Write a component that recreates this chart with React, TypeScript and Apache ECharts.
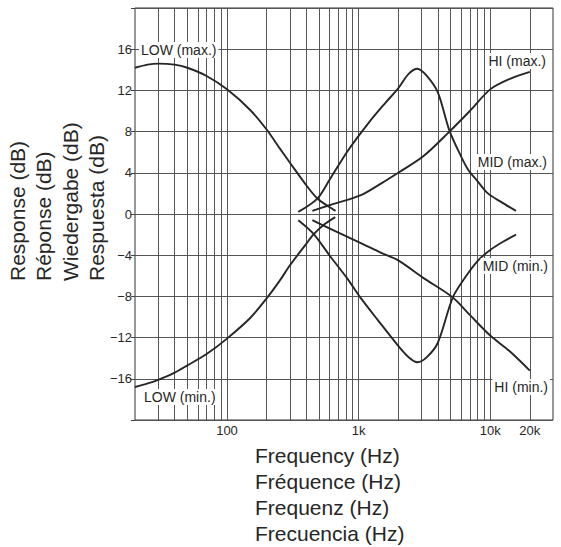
import React, { useEffect, useRef } from "react";
import * as echarts from "echarts";

// Frequency (Hz) / response (dB)
const lowMaxFreq = [20, 25, 30, 40, 50, 70, 100, 150, 200, 254, 300, 400, 486, 580, 668];
const lowMaxDb = [14.2, 14.5, 14.6, 14.5, 14.2, 13.4, 12.1, 10.1, 8.2, 6.3, 5.0, 2.8, 1.5, 0.8, 0.3];

const lowMinFreq = [20, 25, 30, 40, 50, 70, 100, 150, 200, 254, 300, 400, 453, 550, 665];
const lowMinDb = [-16.8, -16.45, -16.1, -15.4, -14.7, -13.6, -12.1, -10.1, -8.2, -6.4, -5.0, -2.9, -2.0, -1.0, -0.3];

const midMaxFreq = [348, 486, 600, 824, 1200, 1600, 2000, 2400, 2800, 3300, 4000, 4900, 6000, 6800, 8000, 9600, 12000, 15700];
const midMaxDb = [0.2, 1.5, 3.3, 6.1, 8.9, 10.8, 12.2, 13.6, 14.1, 13.4, 11.8, 8.1, 5.6, 4.3, 3.2, 2.0, 1.2, 0.3];

const midMinFreq = [348, 453, 600, 824, 1030, 1400, 2000, 2400, 2800, 3300, 4000, 5200, 6500, 8100, 10000, 12500, 15700];
const midMinDb = [-0.6, -1.9, -4.0, -6.3, -8.1, -10.3, -12.8, -13.9, -14.4, -13.9, -12.5, -8.1, -6.1, -4.5, -3.5, -2.7, -2.0];

const hiMaxFreq = [445, 600, 1030, 1500, 2000, 3100, 4900, 7000, 10000, 14000, 20000];
const hiMaxDb = [0.3, 0.85, 1.8, 3.0, 4.0, 5.6, 8.0, 10.0, 12.1, 13.1, 13.8];

const hiMinFreq = [445, 600, 1030, 1500, 2000, 3100, 5200, 7000, 10000, 14000, 20000];
const hiMinDb = [-0.6, -1.4, -2.8, -3.8, -4.5, -6.2, -8.1, -9.8, -11.8, -13.3, -15.2];

// Axis ticks and vertical grid lines
const xTickValues = [100, 1000, 10000, 20000];
const gridFreqs = [
  30, 40, 50, 60, 70, 80, 90, 100,
  200, 300, 400, 500, 600, 700, 800, 900, 1000,
  2000, 3000, 4000, 5000, 6000, 7000, 8000, 9000, 10000,
  20000,
];

const yTitles = ["Response (dB)", "Réponse (dB)", "Wiedergabe (dB)", "Respuesta (dB)"];
const xTitles = ["Frequency (Hz)", "Fréquence (Hz)", "Frequenz (Hz)", "Frecuencia (Hz)"];

const FONT = "'Liberation Sans', Arial, Helvetica, sans-serif";
const INK = "#262626";

function pairs(f: number[], v: number[]) {
  return f.map((x, i) => [x, v[i]]);
}

export default function App() {
  const ref = useRef<HTMLDivElement>(null);
  useEffect(() => {
    const chart = echarts.init(ref.current!, null, { renderer: "svg" });
    const curve = (name: string, f: number[], v: number[]) => ({
      type: "line",
      name,
      data: pairs(f, v),
      smooth: 0.3,
      symbol: "none",
      showSymbol: false,
      silent: true,
      z: 5,
      lineStyle: { color: INK, width: 1.9 },
      itemStyle: { color: INK },
    });

    const label = (text: string, x: number, y: number, align: string) => ({
      type: "text",
      x,
      y,
      z: 100,
      silent: true,
      style: {
        text,
        font: `14px ${FONT}`,
        fill: INK,
        align,
        textAlign: align,
        verticalAlign: "middle",
        textVerticalAlign: "middle",
        backgroundColor: "#fff",
        padding: [1, 2],
      },
    });

    const graphics: any[] = [
      label("LOW (max.)", 139, 50, "left"),
      label("HI (max.)", 548, 61, "right"),
      label("MID (max.)", 549, 162, "right"),
      label("MID (min.)", 550, 266, "right"),
      label("HI (min.)", 550, 387, "right"),
      label("LOW (min.)", 142, 397, "left"),
    ];
    const yCols = [17, 43.5, 70, 96.5];
    yTitles.forEach((t, i) => {
      graphics.push({
        type: "text",
        x: yCols[i],
        y: 281,
        rotation: Math.PI / 2,
        silent: true,
        style: {
          text: t,
          font: `21px ${FONT}`,
          fill: INK,
          align: "left",
          textAlign: "left",
          verticalAlign: "middle",
          textVerticalAlign: "middle",
        },
      });
    });
    const xRows = [455, 481, 507, 533];
    xTitles.forEach((t, i) => {
      graphics.push({
        type: "text",
        x: 255,
        y: xRows[i],
        silent: true,
        style: {
          text: t,
          font: `21px ${FONT}`,
          fill: INK,
          align: "left",
          textAlign: "left",
          verticalAlign: "middle",
          textVerticalAlign: "middle",
        },
      });
    });

    chart.setOption({
      animation: false,
      backgroundColor: "#fff",
      textStyle: { fontFamily: FONT },
      grid: {
        left: 135,
        right: 8,
        top: 8,
        bottom: 127,
        show: true,
        borderColor: "#333",
        borderWidth: 1,
        backgroundColor: "transparent",
      },
      xAxis: {
        type: "log",
        logBase: 10,
        min: 20,
        max: 30000,
        axisLine: { show: false },
        axisTick: { show: false },
        splitLine: { show: false },
        minorTick: { show: false },
        minorSplitLine: { show: false },
        axisLabel: {
          customValues: xTickValues,
          fontSize: 13,
          color: INK,
          margin: 4,
          fontFamily: FONT,
          formatter: (v: number) => (v >= 1000 ? `${Math.round(v / 1000)}k` : `${Math.round(v)}`),
        },
      },
      yAxis: {
        type: "value",
        min: -20,
        max: 20,
        interval: 4,
        axisLine: { show: false },
        axisTick: { show: true, length: 4, lineStyle: { color: "#444" } },
        splitLine: { show: true, lineStyle: { color: "#555", width: 1 } },
        axisLabel: {
          fontSize: 13,
          color: INK,
          margin: 3,
          fontFamily: FONT,
          formatter: (v: number) =>
            v === 20 || v === -20 ? "" : v < 0 ? `\u2212${Math.abs(v)}` : `${v}`,
        },
      },
      series: [
        {
          type: "line",
          name: "grid",
          data: [[20, 0]],
          symbol: "none",
          silent: true,
          lineStyle: { opacity: 0 },
          z: 1,
          markLine: {
            silent: true,
            symbol: ["none", "none"],
            label: { show: false },
            lineStyle: { color: "#555", width: 1, type: "solid" },
            data: gridFreqs.map((f) => ({ xAxis: f })),
          },
        },
        curve("LOW (max.)", lowMaxFreq, lowMaxDb),
        curve("LOW (min.)", lowMinFreq, lowMinDb),
        curve("MID (max.)", midMaxFreq, midMaxDb),
        curve("MID (min.)", midMinFreq, midMinDb),
        curve("HI (max.)", hiMaxFreq, hiMaxDb),
        curve("HI (min.)", hiMinFreq, hiMinDb),
      ],
      graphic: graphics,
    });
    return () => chart.dispose();
  }, []);
  return (
    <div
      ref={ref}
      style={{ position: "fixed", left: 0, top: 0, width: 561, height: 547, background: "#fff" }}
    />
  );
}
